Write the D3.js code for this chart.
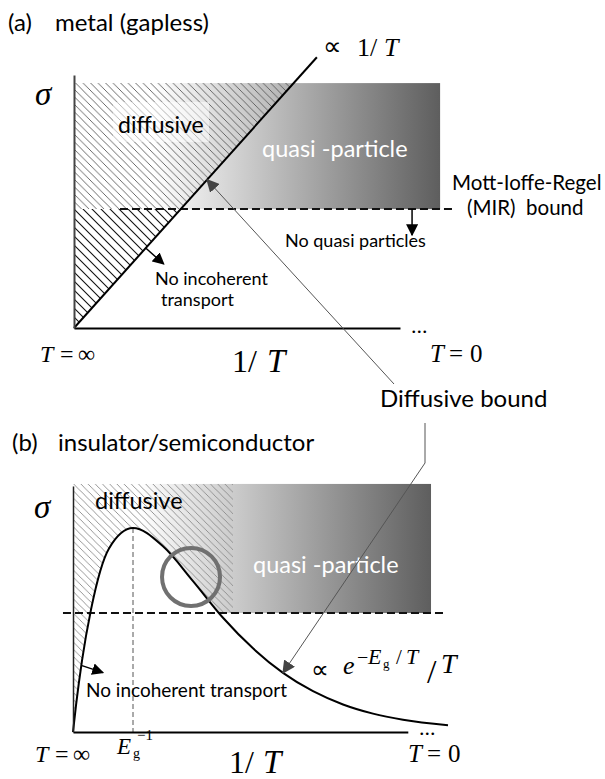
<!DOCTYPE html>
<html>
<head>
<meta charset="utf-8">
<script src="https://cdn.jsdelivr.net/npm/d3@7"></script>
<style>
  body { margin: 0; background: #fff; }
  .sans { font-family: Lato, "Open Sans", sans-serif; }
  .math { font-family: "Liberation Serif", "DejaVu Serif", serif; }
</style>
</head>
<body>
<div id="chart"></div>
<script>
// ---- panel (a): metal (gapless). x = 1/T, y = sigma, arbitrary units
var metalDiag = [[0, 0], [0.745, 1.07]];          // sigma ∝ 1/T
var metalBox = [[0, 0.47], [1.123, 0.968]];       // quasi-particle box (x0,y0),(x1,y1)
var metalMIR = [0.141, 1.163];                    // dashed MIR bound, x extent
var metalMIRLevel = 0.47;
var metalDiffArrow = 0.408;                       // where "Diffusive bound" hits the line
var metalNoIncoh = 0.22;                          // small arrow start on diagonal
var metalNoQuasiX = 1.037;

// ---- panel (b): insulator/semiconductor, x in units of 1/Eg
var insX = [0, 0.05, 0.15, 0.3, 0.6, 1, 1.5, 2, 2.5, 3, 3.5, 4, 4.5, 5, 5.5, 6.25];
var insY = [0, 0.13, 0.35, 0.60, 0.90, 1, 0.91, 0.74, 0.56, 0.41, 0.29, 0.20, 0.135, 0.09, 0.06, 0.033];
var insBox = [[0, 0.583], [5.967, 1.216]];
var insMIR = [-0.167, 6.167];
var insMIRLevel = 0.583;
var insHatchX = 2.667;
var insAxisEnd = [5.58, 1.206];
var insCircle = [1.967, 0.76];
var insEg = 1;

var W = 605, H = 779;
var svg = d3.select("#chart").append("svg").attr("width", W).attr("height", H);
var defs = svg.append("defs");

function hatch(id, step, color, w) {
  var p = defs.append("pattern").attr("id", id)
    .attr("patternUnits", "userSpaceOnUse")
    .attr("width", step).attr("height", step);
  p.append("path")
    .attr("d", "M-1,-1L" + (step + 1) + "," + (step + 1) +
               "M" + (step - 1) + ",-1L" + (step + 1) + ",1" +
               "M-1," + (step - 1) + "L1," + (step + 1))
    .attr("stroke", color).attr("stroke-width", w).attr("fill", "none");
}
hatch("hatchLight", 7.5, "#5a5a5a", 0.9);
hatch("hatchDark", 9, "#111", 1.1);
hatch("hatchB", 7.2, "#8c8c8c", 0.9);

function gradient(id, x1, x2, off) {
  var g = defs.append("linearGradient").attr("id", id)
    .attr("gradientUnits", "userSpaceOnUse")
    .attr("x1", x1).attr("x2", x2).attr("y1", 0).attr("y2", 0);
  g.append("stop").attr("offset", 0).attr("stop-color", "#fff");
  g.append("stop").attr("offset", off).attr("stop-color", "#fff");
  g.append("stop").attr("offset", 1).attr("stop-color", "#5e5e5e");
}

function marker(id, color, size) {
  defs.append("marker").attr("id", id)
    .attr("viewBox", "0 0 10 10").attr("refX", 9).attr("refY", 5)
    .attr("markerUnits", "userSpaceOnUse")
    .attr("markerWidth", size).attr("markerHeight", size)
    .attr("orient", "auto")
    .append("path").attr("d", "M0,0L10,5L0,10Z").attr("fill", color);
}
marker("arrBlack", "#000", 12);
marker("arrGray", "#444", 13);

// math label helper: pieces = [text, x, y, size, italic, family]
function mathLabel(g, pieces) {
  var t = g.append("text").attr("class", "math");
  pieces.forEach(function(p) {
    var s = t.append("tspan").attr("x", p[1]).attr("y", p[2]).attr("font-size", p[3])
      .attr("font-style", p[4] ? "italic" : "normal").text(p[0]);
    if (p[5]) s.attr("font-family", p[5]);
  });
  return t;
}

// ================= panel (a) =================
var xA = d3.scaleLinear().domain([0, 1]).range([74, 400]);
var yA = d3.scaleLinear().domain([0, 1]).range([328, 75]);
var kA = metalDiag[1][1] / metalDiag[1][0];

gradient("gradA", xA(metalBox[0][0]), xA(metalBox[1][0]), 0.22);
var gA = svg.append("g");

gA.append("rect")
  .attr("x", xA(metalBox[0][0])).attr("y", yA(metalBox[1][1]))
  .attr("width", xA(metalBox[1][0]) - xA(metalBox[0][0]))
  .attr("height", yA(metalBox[0][1]) - yA(metalBox[1][1]))
  .attr("fill", "url(#gradA)");

// clip: left of the diagonal, split at the MIR level
var topA = metalBox[1][1];
defs.append("clipPath").attr("id", "clipAUp").append("polygon")
  .attr("points", [[0, metalMIRLevel], [0, topA], [topA / kA, topA], [metalMIRLevel / kA, metalMIRLevel]]
    .map(function(d) { return xA(d[0]) + "," + yA(d[1]); }).join(" "));
defs.append("clipPath").attr("id", "clipALow").append("polygon")
  .attr("points", [[0, 0], [0, metalMIRLevel], [metalMIRLevel / kA, metalMIRLevel]]
    .map(function(d) { return xA(d[0]) + "," + yA(d[1]); }).join(" "));

gA.append("rect").attr("clip-path", "url(#clipAUp)")
  .attr("x", 60).attr("y", 60).attr("width", 400).attr("height", 300)
  .attr("fill", "url(#hatchLight)");
gA.append("rect").attr("clip-path", "url(#clipALow)")
  .attr("x", 60).attr("y", 60).attr("width", 400).attr("height", 300)
  .attr("fill", "url(#hatchDark)");

gA.append("rect").attr("x", 113).attr("y", 102).attr("width", 96).attr("height", 40)
  .attr("fill", "#fff").attr("opacity", 0.5);

gA.append("text").attr("class", "sans").attr("x", 118).attr("y", 133)
  .attr("font-size", 23).text("diffusive");
gA.append("text").attr("class", "sans").attr("x", 262).attr("y", 157)
  .attr("font-size", 23.5).attr("fill", "#fff").text("quasi -particle");

// MIR dashed bound
gA.append("line")
  .attr("x1", xA(metalMIR[0])).attr("x2", xA(metalMIR[1]))
  .attr("y1", yA(metalMIRLevel)).attr("y2", yA(metalMIRLevel))
  .attr("stroke", "#111").attr("stroke-width", 2).attr("stroke-dasharray", "8,4");

// sigma ∝ 1/T
gA.append("path").datum(metalDiag)
  .attr("d", d3.line().x(function(d) { return xA(d[0]); }).y(function(d) { return yA(d[1]); }))
  .attr("stroke", "#000").attr("stroke-width", 2).attr("fill", "none");

gA.append("g").attr("transform", "translate(0," + yA(0) + ")")
  .call(d3.axisBottom(xA).tickValues([]).tickSizeOuter(0))
  .select(".domain").attr("stroke", "#000").attr("stroke-width", 2);
gA.append("g").attr("transform", "translate(" + xA(0) + ",0)")
  .call(d3.axisLeft(yA).tickValues([]).tickSizeOuter(0))
  .select(".domain").attr("stroke", "#444").attr("stroke-width", 2);

// arrows
var pA = [xA(metalNoIncoh), yA(metalNoIncoh * kA)];
gA.append("line").attr("x1", pA[0]).attr("y1", pA[1]).attr("x2", pA[0] + 18).attr("y2", pA[1] + 16)
  .attr("stroke", "#000").attr("stroke-width", 1.5).attr("marker-end", "url(#arrBlack)");
gA.append("line").attr("x1", xA(metalNoQuasiX)).attr("x2", xA(metalNoQuasiX))
  .attr("y1", yA(metalMIRLevel)).attr("y2", yA(metalMIRLevel) + 26)
  .attr("stroke", "#000").attr("stroke-width", 1.5).attr("marker-end", "url(#arrBlack)");

gA.append("text").attr("class", "sans").attr("x", 155).attr("y", 285).attr("font-size", 18).text("No incoherent");
gA.append("text").attr("class", "sans").attr("x", 161).attr("y", 306).attr("font-size", 18).text("transport");
gA.append("text").attr("class", "sans").attr("x", 285).attr("y", 247).attr("font-size", 18).text("No quasi particles");
gA.append("text").attr("class", "sans").attr("x", 452).attr("y", 190).attr("font-size", 20.5).text("Mott-Ioffe-Regel");
gA.append("text").attr("class", "sans").attr("x", 467).attr("y", 215).attr("font-size", 20.5)
  .attr("xml:space", "preserve").text("(MIR)  bound");

// math labels (a)
mathLabel(gA, [["σ", 35, 105, 33, true]]);
mathLabel(gA, [["T", 40, 362, 24, true], ["=", 60, 362, 24], ["∞", 78, 362, 24]]);
mathLabel(gA, [["1/", 232, 372, 32], ["T", 267, 372, 33, true]]);
mathLabel(gA, [["T", 430, 362, 25, true], ["=", 449, 362, 25], ["0", 470, 362, 25]]);
mathLabel(gA, [["...", 411, 333, 22]]);
mathLabel(gA, [["∝", 323, 55, 26, false, "DejaVu Sans"], ["1/", 357, 56, 26], ["T", 384, 56, 26, true]]);

// ================= panel (b) =================
var xB = d3.scaleLinear().domain([0, 6.25]).range([73, 448]);
var yB = d3.scaleLinear().domain([0, 1]).range([732, 528]);
var insPts = insX.map(function(x, i) { return [x, insY[i]]; });
var lineB = d3.line().curve(d3.curveMonotoneX)
  .x(function(d) { return xB(d[0]); }).y(function(d) { return yB(d[1]); });
var areaB = d3.area().curve(d3.curveMonotoneX)
  .x(function(d) { return xB(d[0]); }).y0(yB(0)).y1(function(d) { return yB(d[1]); });

gradient("gradB", xB(insBox[0][0]), xB(insBox[1][0]), 0.19);
var gB = svg.append("g");

gB.append("rect")
  .attr("x", xB(insBox[0][0])).attr("y", yB(insBox[1][1]))
  .attr("width", xB(insBox[1][0]) - xB(insBox[0][0]))
  .attr("height", yB(insBox[0][1]) - yB(insBox[1][1]))
  .attr("fill", "url(#gradB)");
gB.append("path").datum(insPts).attr("d", areaB).attr("fill", "#fff");

// hatch: above the curve, left part only
defs.append("clipPath").attr("id", "clipBCurve").append("path")
  .attr("d", lineB(insPts) + "L" + xB(6.25) + "," + yB(1.3) + "L" + xB(0) + "," + yB(1.3) + "Z");
defs.append("clipPath").attr("id", "clipBBox").append("polygon")
  .attr("points", [[0, insBox[1][1]], [insHatchX, insBox[1][1]], [insHatchX, insMIRLevel],
                   [insEg, insMIRLevel], [insEg, 0], [0, 0]]
    .map(function(d) { return xB(d[0]) + "," + yB(d[1]); }).join(" "));
gB.append("g").attr("clip-path", "url(#clipBCurve)")
  .append("rect").attr("clip-path", "url(#clipBBox)")
  .attr("x", 60).attr("y", 470).attr("width", 400).attr("height", 280)
  .attr("fill", "url(#hatchB)");

gB.append("text").attr("class", "sans").attr("x", 95).attr("y", 509).attr("font-size", 23.5).text("diffusive");
gB.append("text").attr("class", "sans").attr("x", 253).attr("y", 573).attr("font-size", 23.5)
  .attr("fill", "#fff").text("quasi -particle");

// MIR dashed bound
gB.append("line")
  .attr("x1", xB(insMIR[0])).attr("x2", xB(insMIR[1]))
  .attr("y1", yB(insMIRLevel)).attr("y2", yB(insMIRLevel))
  .attr("stroke", "#111").attr("stroke-width", 2).attr("stroke-dasharray", "8,4");

// E_g^-1 marker line
gB.append("line").attr("x1", xB(insEg)).attr("x2", xB(insEg))
  .attr("y1", yB(1)).attr("y2", yB(0))
  .attr("stroke", "#555").attr("stroke-width", 1).attr("stroke-dasharray", "5,3");

gB.append("path").datum(insPts).attr("d", lineB)
  .attr("stroke", "#000").attr("stroke-width", 2).attr("fill", "none");

var xBAxis = xB.copy().domain([0, insAxisEnd[0]]).range([xB(0), xB(insAxisEnd[0])]);
var yBAxis = yB.copy().domain([0, insAxisEnd[1]]).range([yB(0), yB(insAxisEnd[1])]);
gB.append("g").attr("transform", "translate(0," + yB(0) + ")")
  .call(d3.axisBottom(xBAxis).tickValues([]).tickSizeOuter(0))
  .select(".domain").attr("stroke", "#000").attr("stroke-width", 2);
gB.append("g").attr("transform", "translate(" + xB(0) + ",0)")
  .call(d3.axisLeft(yBAxis).tickValues([]).tickSizeOuter(0))
  .select(".domain").attr("stroke", "#222").attr("stroke-width", 1.5);

gB.append("circle").attr("cx", xB(insCircle[0])).attr("cy", yB(insCircle[1])).attr("r", 29)
  .attr("fill", "none").attr("stroke", "#707070").attr("stroke-width", 4);

// small arrow off the rising branch
var pB = [xB(insPts[2][0]), yB(insPts[2][1])];
gB.append("line").attr("x1", pB[0]).attr("y1", pB[1] + 5).attr("x2", pB[0] + 21).attr("y2", pB[1] + 12)
  .attr("stroke", "#000").attr("stroke-width", 1.5).attr("marker-end", "url(#arrBlack)");

gB.append("text").attr("class", "sans").attr("x", 86).attr("y", 697).attr("font-size", 19)
  .text("No incoherent transport");

// math labels (b)
mathLabel(gB, [["σ", 34, 518, 33, true]]);
mathLabel(gB, [["T", 35, 762, 24, true], ["=", 55, 762, 24], ["∞", 73, 762, 24]]);
mathLabel(gB, [["E", 117, 754, 23, true], ["g", 133, 758, 14], ["−1", 137, 740, 15]]);
mathLabel(gB, [["1/", 229, 773, 32], ["T", 263, 773, 33, true]]);
mathLabel(gB, [["T", 408, 762, 25, true], ["=", 427, 762, 25], ["0", 448, 762, 25]]);
mathLabel(gB, [["...", 419, 735, 22]]);
mathLabel(gB, [
  ["∝", 311, 678, 25, false, "DejaVu Sans"],
  ["e", 343, 674, 26, true],
  ["−", 357, 664, 20],
  ["E", 368, 664, 22, true],
  ["g", 383, 668, 13],
  ["/", 396, 664, 21],
  ["T", 406, 664, 22, true],
  ["/", 427, 683, 34],
  ["T", 441, 673, 28, true]
]);

// ================= titles & shared callout =================
svg.append("text").attr("class", "sans").attr("x", 8).attr("y", 31).attr("font-size", 24).text("(a)");
svg.append("text").attr("class", "sans").attr("x", 55).attr("y", 31).attr("font-size", 24).text("metal (gapless)");
svg.append("text").attr("class", "sans").attr("x", 12).attr("y", 451).attr("font-size", 24).text("(b)");
svg.append("text").attr("class", "sans").attr("x", 58).attr("y", 451).attr("font-size", 24).text("insulator/semiconductor");
svg.append("text").attr("class", "sans").attr("x", 380).attr("y", 407).attr("font-size", 24).text("Diffusive bound");

var tipA = [xA(metalDiffArrow), yA(metalDiffArrow * kA)];
svg.append("line").attr("x1", 394).attr("y1", 384).attr("x2", tipA[0]).attr("y2", tipA[1])
  .attr("stroke", "#555").attr("stroke-width", 1).attr("marker-end", "url(#arrGray)");
var tipB = [xB(insPts[10][0]), yB(insPts[10][1])];
svg.append("polyline")
  .attr("points", [[425, 423], [425, 463], tipB].map(function(d) { return d.join(","); }).join(" "))
  .attr("stroke", "#555").attr("stroke-width", 1).attr("fill", "none").attr("marker-end", "url(#arrGray)");
</script>
</body>
</html>
